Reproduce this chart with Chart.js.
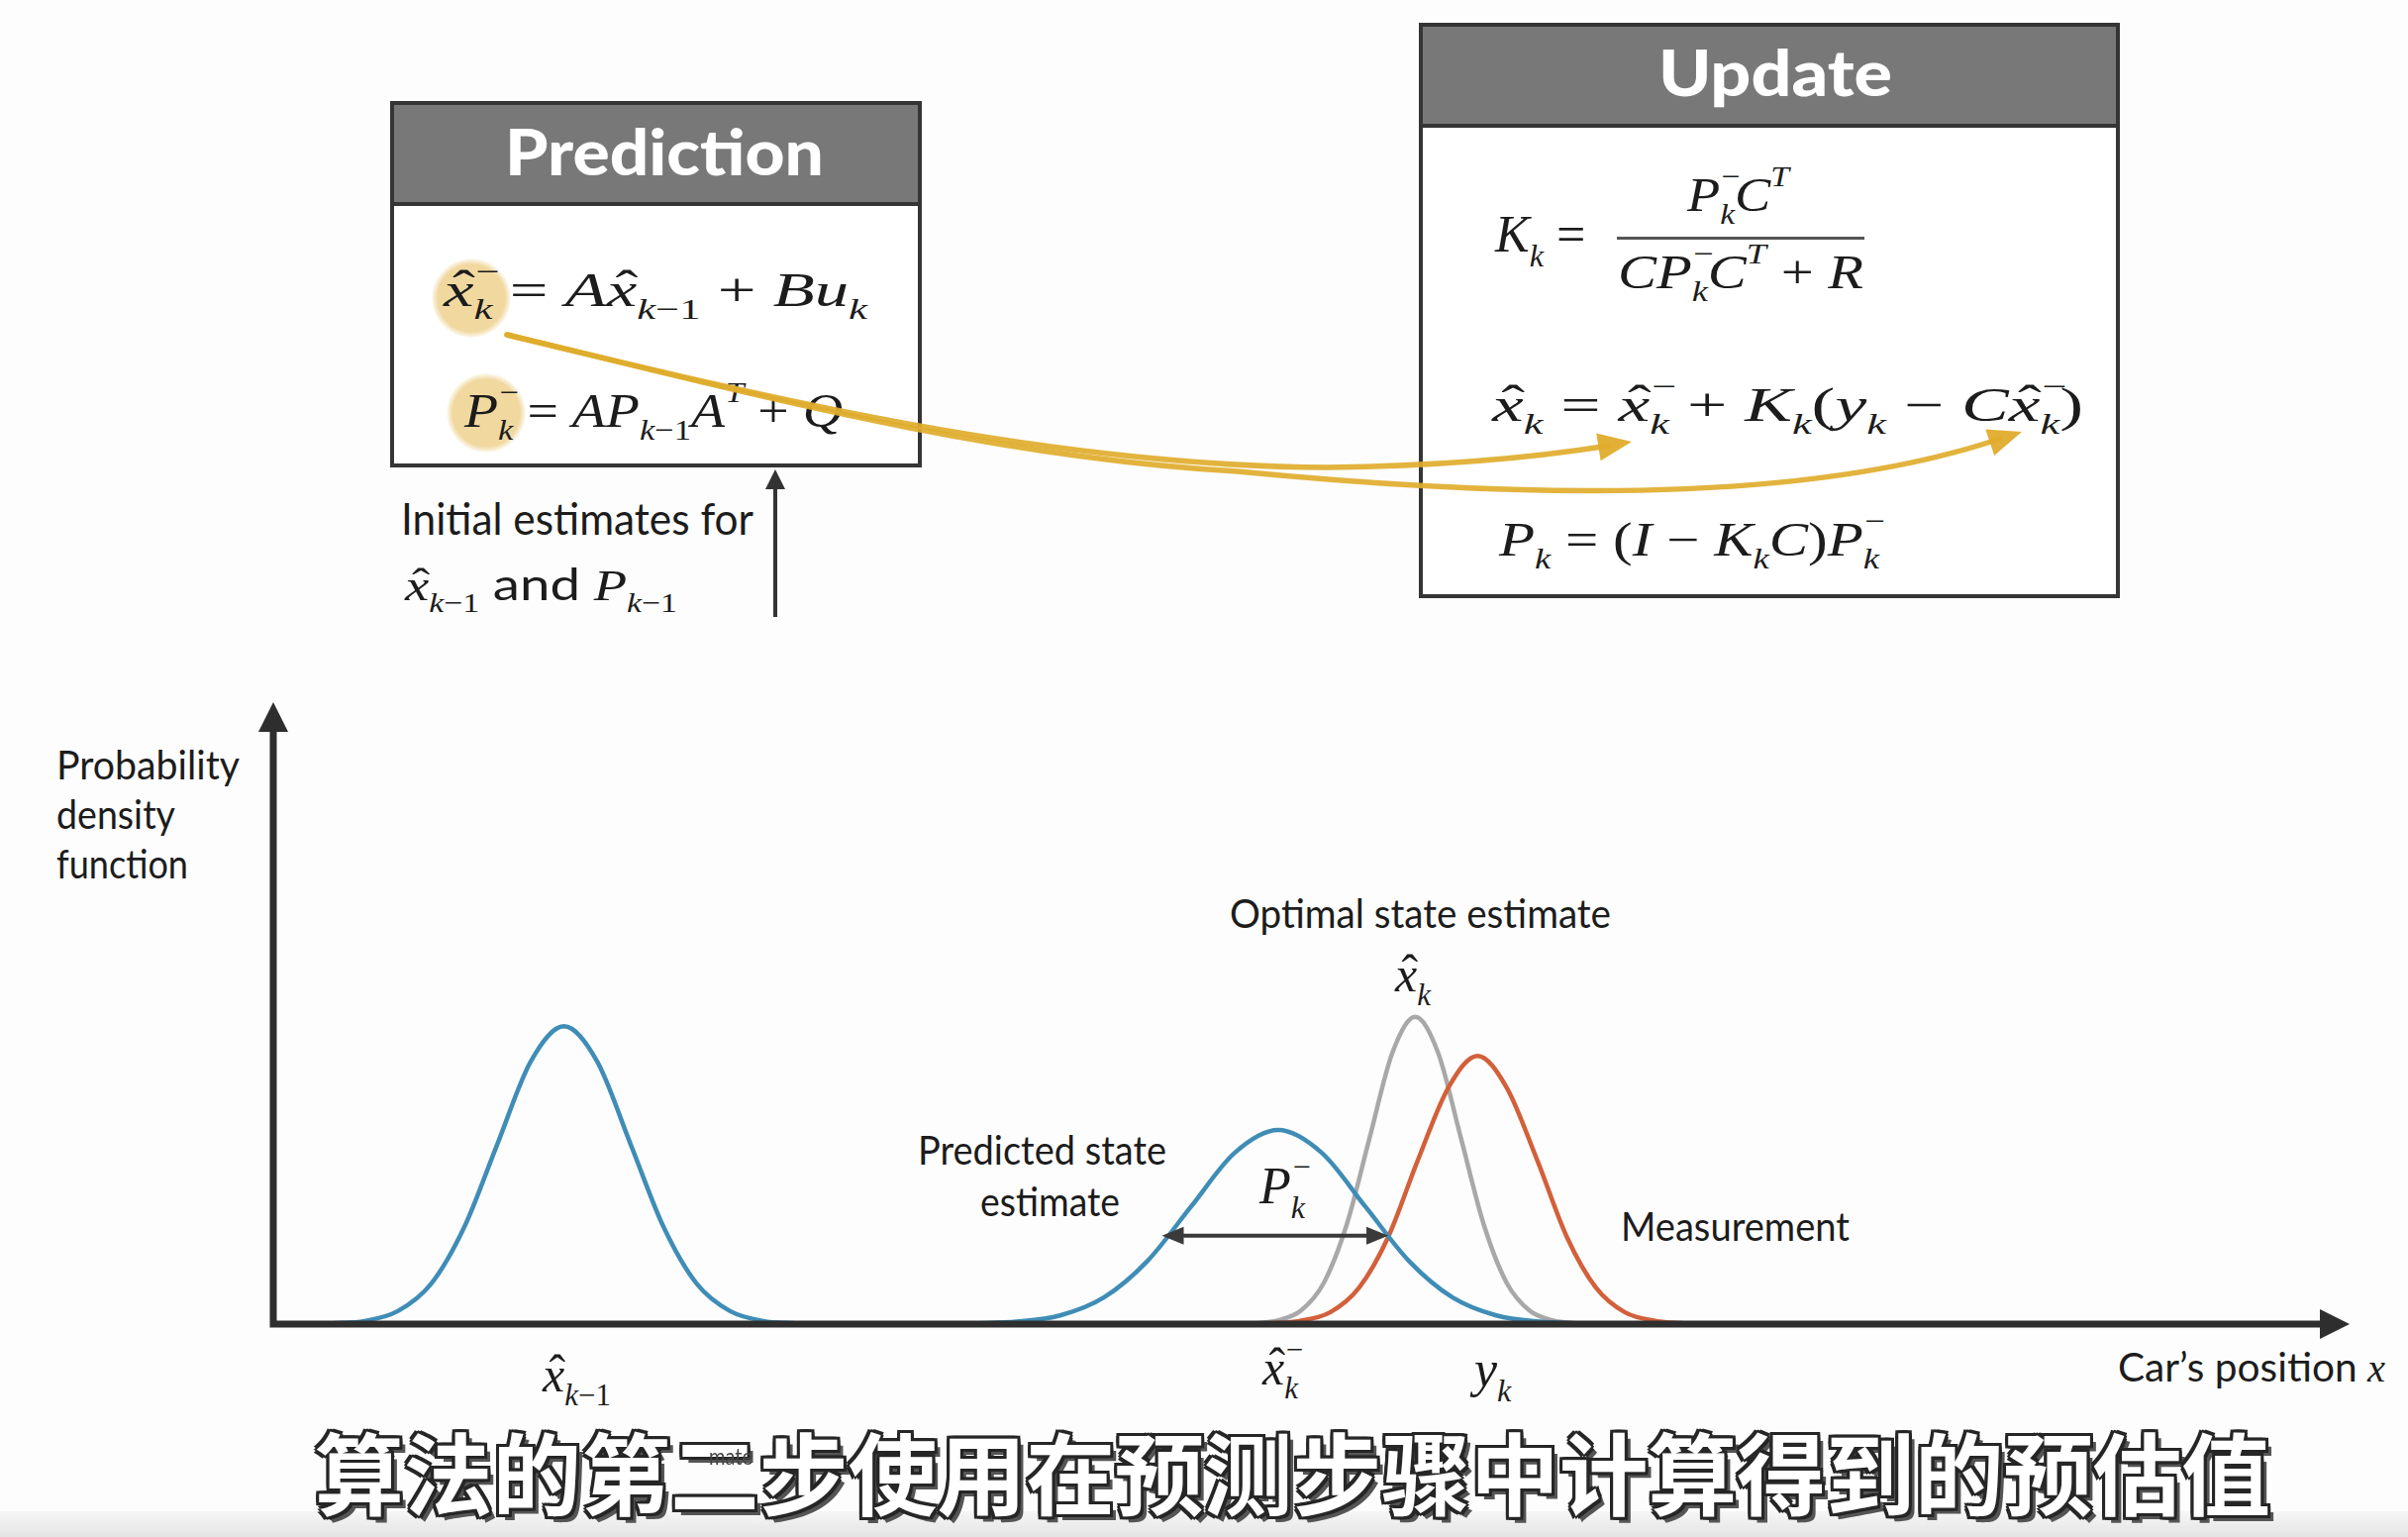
<!DOCTYPE html>
<html>
<head>
<meta charset="utf-8">
<script src="https://cdn.jsdelivr.net/npm/chart.js@4.4.1/dist/chart.umd.min.js"></script>
<style>
  html, body { margin: 0; padding: 0; background: #fff; }
  #stage { position: relative; width: 2432px; height: 1552px; overflow: hidden; background: #fdfdfd; }
  #chart { position: absolute; left: 0; top: 0; z-index: 5; }
  .box { position: absolute; box-sizing: border-box; border: 4px solid #353535; background: #fff; }
  .box .hd { position: absolute; left: 0; right: 0; top: 0; height: 98px; background: #787878; border-bottom: 4px solid #353535; }
  .glow { position: absolute; border-radius: 50%; background: radial-gradient(circle, #f1d89f 0%, #f1d89f 60%, rgba(241,216,159,0) 72%); }
  .bar { position: absolute; height: 3px; background: #555; z-index: 3; }
  .t { position: absolute; white-space: nowrap; line-height: 1; color: #1c1c1c; z-index: 3; }
  .sans { font-family: Lato, "Open Sans", sans-serif; }
  .ser { font-family: "Liberation Serif", "DejaVu Serif", serif; }
  .ser .sans { font-style: normal; }
  .ttl { color: #fff; font-weight: 900; }
  i { font-style: italic; }
  .b { position: relative; top: .45em; font-size: .62em; font-style: normal; }
  .u { position: absolute; left: .05em; top: -1.2em; font-style: normal; }
  .p { position: relative; top: -.85em; font-size: .62em; }
  .o { padding: 0 .25em; font-style: normal; }
  .h { position: relative; font-style: italic; }
  .h::before { content: "\02C6"; position: absolute; left: .13em; top: .02em; font-style: normal; }
  .cjk { font-family: "Noto Sans CJK SC", sans-serif; font-weight: 700; color: #fff;
         text-shadow: -3px -3px 0 #262626, 3px -3px 0 #262626, -3px 3px 0 #262626, 3px 3px 0 #262626,
                      0 -3px 0 #262626, 0 3px 0 #262626, -3px 0 0 #262626, 3px 0 0 #262626, 6px 6px 0 #555; }
  #band { position: absolute; left: 0; top: 1526px; width: 2432px; height: 26px; background: linear-gradient(#f6f6f6, #e4e4e4); }
</style>
</head>
<body>
<div id="stage">
  <div class="box" style="left:394px;top:102px;width:537px;height:370px;"><div class="hd"></div></div>
  <div class="box" style="left:1433px;top:23px;width:708px;height:581px;"><div class="hd"></div></div>
  <div class="glow" style="left:436px;top:261px;width:80px;height:80px;"></div>
  <div class="glow" style="left:451px;top:377px;width:80px;height:80px;"></div>
  <div class="bar" style="left:1633px;top:239px;width:250px;"></div>
  <div id="band"></div>
  <canvas id="chart" width="2432" height="1552"></canvas>
</div>
<script>
// x in units of the car's position axis (0 = y axis, 100 = arrow tip), y in density units (0..100)
const priorX = [2.8, 4.4, 6.0, 7.6, 9.2, 10.8, 12.4, 14.0, 15.6, 17.2, 18.8, 20.4, 22.0, 23.6, 25.2];
const priorY = [0.1, 0.5, 2.1, 6.5, 15.7, 29.2, 42.5, 48.2, 42.5, 29.2, 15.7, 6.5, 2.1, 0.5, 0.1];

const predX = [33.7, 35.8, 37.9, 40.0, 42.1, 44.2, 46.3, 48.4, 50.5, 52.6, 54.7, 56.8, 58.9, 61.0, 63.1];
const predY = [0.1, 0.4, 1.4, 4.3, 10.2, 19.0, 27.7, 31.4, 27.7, 19.0, 10.2, 4.3, 1.4, 0.4, 0.1];

const measX = [48.0, 49.4, 50.9, 52.3, 53.7, 55.1, 56.6, 58.0, 59.4, 60.9, 62.3, 63.7, 65.1, 66.6, 68.0];
const measY = [0.1, 0.5, 1.9, 5.9, 14.1, 26.3, 38.3, 43.4, 38.3, 26.3, 14.1, 5.9, 1.9, 0.5, 0.1];

const optX = [47.3, 48.4, 49.5, 50.6, 51.7, 52.8, 53.9, 55.0, 56.1, 57.2, 58.3, 59.4, 60.5, 61.6, 62.7];
const optY = [0.1, 0.6, 2.2, 6.7, 16.1, 30.1, 43.9, 49.7, 43.9, 30.1, 16.1, 6.7, 2.2, 0.6, 0.1];

// width marker of the predicted estimate (P_k^-)
const spreadFrom = 42.8, spreadTo = 53.7, spreadLevel = 14.3;

const pts = (xs, ys) => xs.map((v, i) => ({ x: v, y: ys[i] }));

const stage = document.getElementById('stage');

function put(html, cls, x, base, size, w) {
  const d = document.createElement('div');
  d.className = 't ' + cls;
  d.style.fontSize = size + 'px';
  d.innerHTML = html;
  stage.appendChild(d);
  const off = cls.indexOf('ser') >= 0 ? 0.8375 : cls.indexOf('cjk') >= 0 ? 0.88 : 0.887;
  d.style.left = x + 'px';
  d.style.top = (base - off * size) + 'px';
  if (w) {
    d.style.transformOrigin = '0 0';
    d.style.transform = 'scaleX(' + (w / d.getBoundingClientRect().width) + ')';
  }
  return d;
}

const H = c => '<span class="h">' + c + '</span>';
const I = c => '<i>' + c + '</i>';
const SB = s => '<span class="b">' + s + '</span>';
const SS = (s, u) => '<span class="b">' + s + '<span class="u">' + u + '</span></span>';
const SP = s => '<span class="p">' + s + '</span>';
const O = s => '<span class="o">' + s + '</span>';
const km1 = I('k') + '−1';
const kneg = SS(I('k'), '−');

// boxes
put('Prediction', 'sans ttl', 510, 178, 64, 322);
put('Update', 'sans ttl', 1675, 98, 64, 236);

put(H('x') + kneg + O('=') + I('A') + H('x') + SB(km1) + O('+') + I('B') + I('u') + SB(I('k')), 'ser', 448, 309, 48, 428);
put(I('P') + kneg + O('=') + I('A') + I('P') + SB(km1) + I('A') + SP(I('T')) + O('+') + I('Q'), 'ser', 469, 431, 48, 382);

put('Initial estimates for', 'sans', 405, 541, 45, 356);
put(H('x') + SB(km1) + ' <span class="sans">and</span> ' + I('P') + SB(km1), 'ser', 409, 604, 44, 275);

put(I('K') + SB(I('k')) + O('='), 'ser', 1510, 255, 52);
put(I('P') + kneg + I('C') + SP(I('T')), 'ser', 1704, 213, 48, 103);
put(I('C') + I('P') + kneg + I('C') + SP(I('T')) + O('+') + I('R'), 'ser', 1634, 291, 48, 248);
put(H('x') + SB(I('k')) + O('=') + H('x') + kneg + O('+') + I('K') + SB(I('k')) + '(' + I('y') + SB(I('k')) +
    O('−') + I('C') + H('x') + kneg + ')', 'ser', 1507, 425, 48, 597);
put(I('P') + SB(I('k')) + O('=') + '(' + I('I') + O('−') + I('K') + SB(I('k')) + I('C') + ')' + I('P') + kneg,
    'ser', 1514, 561, 48, 384);

// plot labels
put('Probability', 'sans', 57, 787, 40, 185);
put('density', 'sans', 57, 837, 40, 120);
put('function', 'sans', 57, 887, 40, 133);
put('Optimal state estimate', 'sans', 1242, 937, 40, 385);
put(H('x') + SB(I('k')), 'ser', 1409, 1001, 50);
put('Predicted state', 'sans', 927, 1176, 40, 251);
put('estimate', 'sans', 990, 1228, 40, 141);
put(I('P') + kneg, 'ser', 1272, 1216, 52);
put('Measurement', 'sans', 1637, 1253, 40, 231);
put(H('x') + SB(km1), 'ser', 548, 1405, 50);
put(H('x') + kneg, 'ser', 1275, 1398, 50);
put(I('y') + SB(I('k')), 'ser', 1489, 1401, 52);
put('Car’s position <i class="ser">x</i>', 'sans', 2139, 1395, 40, 270);
put('算法的第二步使用在预测步骤中计算得到的预估值', 'cjk', 318, 1518, 90, 1975).style.zIndex = 6;
const frag = put('mate', 'sans', 716, 1479, 24, 44);
frag.style.color = '#444';
frag.style.zIndex = 7;

function head(ctx, tx, ty, ang, len, hw) {
  ctx.save();
  ctx.translate(tx, ty);
  ctx.rotate(ang);
  ctx.beginPath();
  ctx.moveTo(0, 0);
  ctx.lineTo(-len, -hw);
  ctx.lineTo(-len, hw);
  ctx.closePath();
  ctx.fill();
  ctx.restore();
}

const decor = {
  id: 'decor',
  afterDatasetsDraw(chart) {
    const { ctx, scales: { x, y } } = chart;
    const x0 = x.getPixelForValue(0), y0 = y.getPixelForValue(0);
    const xEnd = x.getPixelForValue(100), yTop = y.getPixelForValue(100);
    ctx.save();
    ctx.strokeStyle = '#2e2e2e';
    ctx.fillStyle = '#2e2e2e';
    ctx.lineWidth = 7;
    ctx.beginPath();
    ctx.moveTo(x0 - 3.5, y0);
    ctx.lineTo(xEnd - 20, y0);
    ctx.moveTo(x0, y0 + 3.5);
    ctx.lineTo(x0, yTop + 20);
    ctx.stroke();
    head(ctx, xEnd, y0, 0, 30, 15);
    head(ctx, x0, yTop - 4, -Math.PI / 2, 30, 15);

    // spread of the predicted estimate
    const ax = x.getPixelForValue(spreadFrom), bx = x.getPixelForValue(spreadTo), ly = y.getPixelForValue(spreadLevel);
    ctx.strokeStyle = '#3a3a3a';
    ctx.fillStyle = '#3a3a3a';
    ctx.lineWidth = 4;
    ctx.beginPath();
    ctx.moveTo(ax + 10, ly);
    ctx.lineTo(bx - 10, ly);
    ctx.stroke();
    head(ctx, ax, ly, Math.PI, 22, 9);
    head(ctx, bx, ly, 0, 22, 9);

    // initial estimates arrow into the prediction box
    ctx.strokeStyle = '#333';
    ctx.fillStyle = '#333';
    ctx.lineWidth = 4;
    ctx.beginPath();
    ctx.moveTo(783, 623);
    ctx.lineTo(783, 488);
    ctx.stroke();
    head(ctx, 783, 474, -Math.PI / 2, 20, 10);

    // prediction -> update arrows
    ctx.strokeStyle = 'rgba(224,172,44,0.92)';
    ctx.fillStyle = 'rgba(224,172,44,0.95)';
    ctx.lineWidth = 5.5;
    ctx.lineCap = 'round';
    ctx.beginPath();
    ctx.moveTo(512, 338);
    ctx.bezierCurveTo(760, 398, 1050, 470, 1340, 472);
    ctx.quadraticCurveTo(1500, 470, 1625, 450);
    ctx.stroke();
    head(ctx, 1648, 446, Math.atan2(-24, 148), 34, 14);
    ctx.beginPath();
    ctx.moveTo(512, 338);
    ctx.bezierCurveTo(760, 398, 1000, 462, 1250, 476);
    ctx.bezierCurveTo(1600, 510, 1850, 500, 2020, 443);
    ctx.stroke();
    head(ctx, 2042, 436, Math.atan2(-63, 190), 34, 14);
    ctx.restore();
  }
};

const curve = (label, xs, ys, color) => ({
  label, data: pts(xs, ys), borderColor: color, borderWidth: 4.5,
  pointRadius: 0, fill: false, cubicInterpolationMode: 'monotone'
});

new Chart(document.getElementById('chart').getContext('2d'), {
  type: 'line',
  data: {
    datasets: [
      curve('Prior estimate', priorX, priorY, '#3f8db6'),
      curve('Predicted state estimate', predX, predY, '#3f8db6'),
      curve('Measurement', measX, measY, '#d2603a'),
      curve('Optimal state estimate', optX, optY, '#a8a8a8')
    ]
  },
  options: {
    responsive: false,
    devicePixelRatio: 1,
    animation: false,
    layout: { padding: { left: 276, right: 59, top: 713, bottom: 215 } },
    plugins: { legend: { display: false }, tooltip: { enabled: false } },
    scales: {
      x: { type: 'linear', min: 0, max: 100, display: false },
      y: { min: 0, max: 100, display: false }
    }
  },
  plugins: [decor]
});
</script>
</body>
</html>
